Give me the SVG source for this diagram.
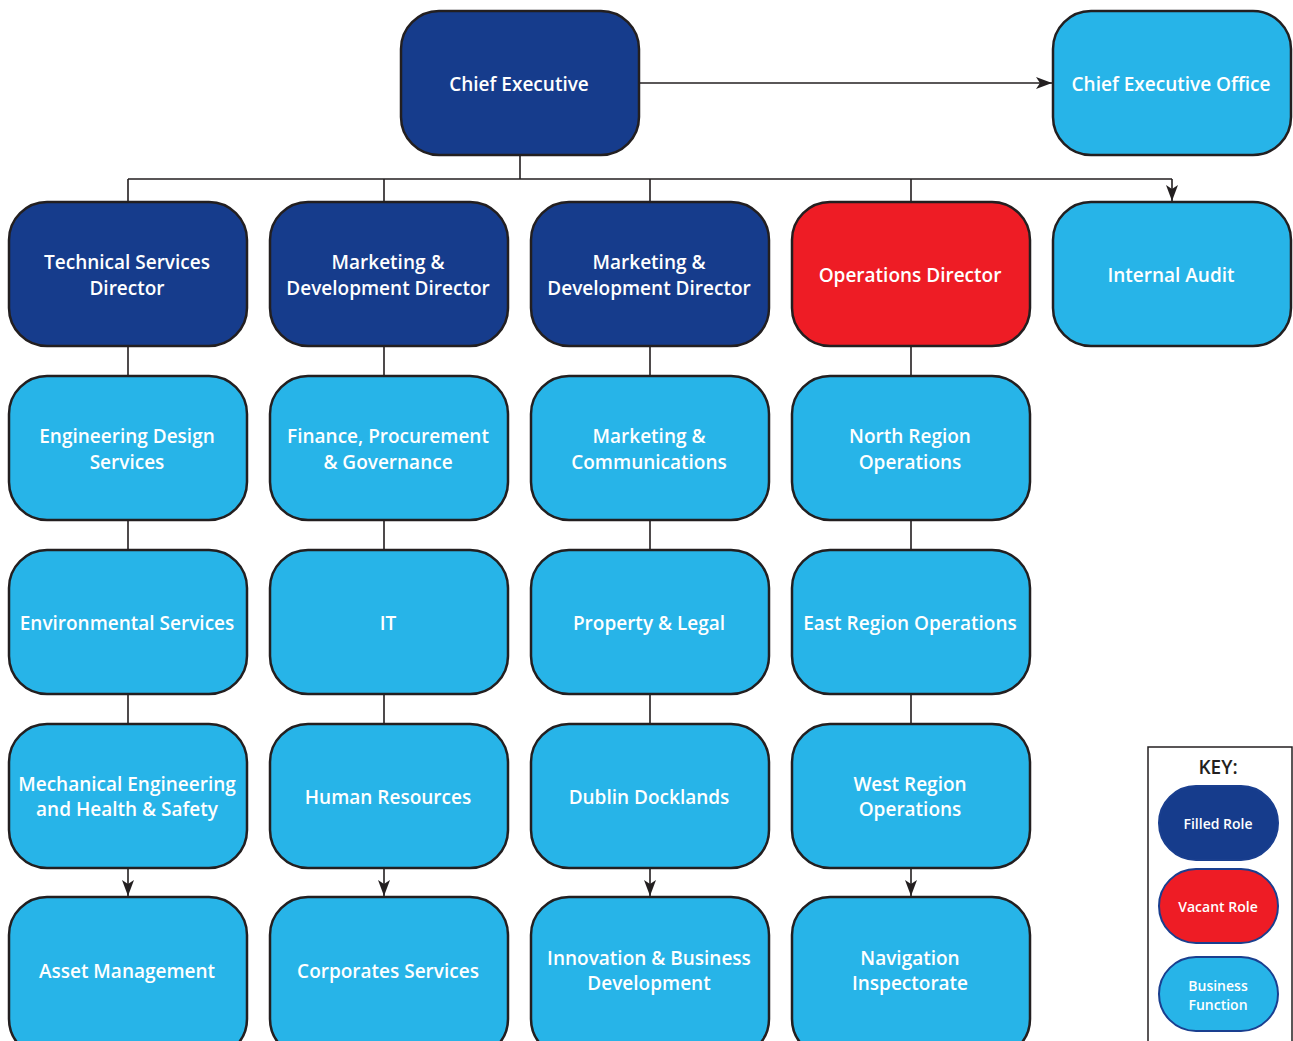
<svg xmlns="http://www.w3.org/2000/svg" width="1293" height="1041" viewBox="0 0 1293 1041">
<style>
.n{stroke:#231f20;stroke-width:2.5}
.navy{fill:#163c8c}.blue{fill:#27b4e8}.red{fill:#ee1c25}
.t{font-family:"Open Sans","DejaVu Sans",sans-serif;font-weight:600;font-size:19px;fill:#fff;text-anchor:middle}
.c{stroke:#231f20;stroke-width:1.6;fill:none}
.ar{stroke:#231f20;stroke-width:1.6;fill:none;marker-end:url(#a)}
.k{stroke:#1a3f8f;stroke-width:2}
.kt{font-family:"Open Sans","DejaVu Sans",sans-serif;font-weight:600;font-size:14px;fill:#fff;text-anchor:middle}
</style>
<defs>
<marker id="a" viewBox="0 0 16 12" refX="16" refY="6" markerWidth="16" markerHeight="12" markerUnits="userSpaceOnUse" orient="auto">
<path d="M0,0 L16,6 L0,12 L4,6 Z" fill="#231f20"/>
</marker>
</defs>
<g id="connectors">
<path class="ar" d="M639,83 H1052"/>
<path class="c" d="M520,155 V179 M128,179 H1172 M128,179 V202 M384,179 V202 M650,179 V202 M911,179 V202"/>
<path class="ar" d="M1172,179 V201"/>
<path class="c" d="M128,346 V376 M128,520 V550 M128,694 V724 M384,346 V376 M384,520 V550 M384,694 V724 M650,346 V376 M650,520 V550 M650,694 V724 M911,346 V376 M911,520 V550 M911,694 V724"/>
<path class="ar" d="M128,868 V896"/>
<path class="ar" d="M384,868 V896"/>
<path class="ar" d="M650,868 V896"/>
<path class="ar" d="M911,868 V896"/>
</g>
<g id="chief-executive"><rect class="n navy" x="401" y="11" width="238" height="144" rx="38"/><text class="t" x="519" y="91">Chief Executive</text></g>
<g id="chief-executive-office"><rect class="n blue" x="1053" y="11" width="238" height="144" rx="38"/><text class="t" x="1171" y="91">Chief Executive Office</text></g>
<g id="technical-services-director"><rect class="n navy" x="9" y="202" width="238" height="144" rx="38"/><text class="t" x="127" y="269">Technical Services</text><text class="t" x="127" y="295">Director</text></g>
<g id="marketing-dev-director-1"><rect class="n navy" x="270" y="202" width="238" height="144" rx="38"/><text class="t" x="388" y="269">Marketing &amp;</text><text class="t" x="388" y="295">Development Director</text></g>
<g id="marketing-dev-director-2"><rect class="n navy" x="531" y="202" width="238" height="144" rx="38"/><text class="t" x="649" y="269">Marketing &amp;</text><text class="t" x="649" y="295">Development Director</text></g>
<g id="operations-director"><rect class="n red" x="792" y="202" width="238" height="144" rx="38"/><text class="t" x="910" y="282">Operations Director</text></g>
<g id="internal-audit"><rect class="n blue" x="1053" y="202" width="238" height="144" rx="38"/><text class="t" x="1171" y="282">Internal Audit</text></g>
<g id="engineering-design-services"><rect class="n blue" x="9" y="376" width="238" height="144" rx="38"/><text class="t" x="127" y="443">Engineering Design</text><text class="t" x="127" y="469">Services</text></g>
<g id="finance"><rect class="n blue" x="270" y="376" width="238" height="144" rx="38"/><text class="t" x="388" y="443">Finance, Procurement</text><text class="t" x="388" y="469">&amp; Governance</text></g>
<g id="marketing-communications"><rect class="n blue" x="531" y="376" width="238" height="144" rx="38"/><text class="t" x="649" y="443">Marketing &amp;</text><text class="t" x="649" y="469">Communications</text></g>
<g id="north-region"><rect class="n blue" x="792" y="376" width="238" height="144" rx="38"/><text class="t" x="910" y="443">North Region</text><text class="t" x="910" y="469">Operations</text></g>
<g id="environmental-services"><rect class="n blue" x="9" y="550" width="238" height="144" rx="38"/><text class="t" x="127" y="630">Environmental Services</text></g>
<g id="it"><rect class="n blue" x="270" y="550" width="238" height="144" rx="38"/><text class="t" x="388" y="630">IT</text></g>
<g id="property-legal"><rect class="n blue" x="531" y="550" width="238" height="144" rx="38"/><text class="t" x="649" y="630">Property &amp; Legal</text></g>
<g id="east-region"><rect class="n blue" x="792" y="550" width="238" height="144" rx="38"/><text class="t" x="910" y="630">East Region Operations</text></g>
<g id="mechanical-engineering"><rect class="n blue" x="9" y="724" width="238" height="144" rx="38"/><text class="t" x="127" y="791">Mechanical Engineering</text><text class="t" x="127" y="816">and Health &amp; Safety</text></g>
<g id="human-resources"><rect class="n blue" x="270" y="724" width="238" height="144" rx="38"/><text class="t" x="388" y="804">Human Resources</text></g>
<g id="dublin-docklands"><rect class="n blue" x="531" y="724" width="238" height="144" rx="38"/><text class="t" x="649" y="804">Dublin Docklands</text></g>
<g id="west-region"><rect class="n blue" x="792" y="724" width="238" height="144" rx="38"/><text class="t" x="910" y="791">West Region</text><text class="t" x="910" y="816">Operations</text></g>
<g id="asset-management"><rect class="n blue" x="9" y="897" width="238" height="160" rx="38"/><text class="t" x="127" y="978">Asset Management</text></g>
<g id="corporates-services"><rect class="n blue" x="270" y="897" width="238" height="160" rx="38"/><text class="t" x="388" y="978">Corporates Services</text></g>
<g id="innovation"><rect class="n blue" x="531" y="897" width="238" height="160" rx="38"/><text class="t" x="649" y="965">Innovation &amp; Business</text><text class="t" x="649" y="990">Development</text></g>
<g id="navigation-inspectorate"><rect class="n blue" x="792" y="897" width="238" height="160" rx="38"/><text class="t" x="910" y="965">Navigation</text><text class="t" x="910" y="990">Inspectorate</text></g>
<g id="key">
<rect x="1148" y="747" width="144" height="310" fill="#fff" stroke="#231f20" stroke-width="1.5"/>
<text x="1218" y="774" style="font-family:'Open Sans','DejaVu Sans',sans-serif;font-weight:600;font-size:19px;fill:#231f20;text-anchor:middle">KEY:</text>
<rect class="k navy" x="1159" y="786" width="119" height="74" rx="37"/>
<text class="kt" x="1218" y="829">Filled Role</text>
<rect class="k red" x="1159" y="869" width="119" height="74" rx="37"/>
<text class="kt" x="1218" y="912">Vacant Role</text>
<rect class="k blue" x="1159" y="957" width="119" height="74" rx="37"/>
<text class="kt" x="1218" y="991">Business</text>
<text class="kt" x="1218" y="1010">Function</text>
</g>
</svg>
